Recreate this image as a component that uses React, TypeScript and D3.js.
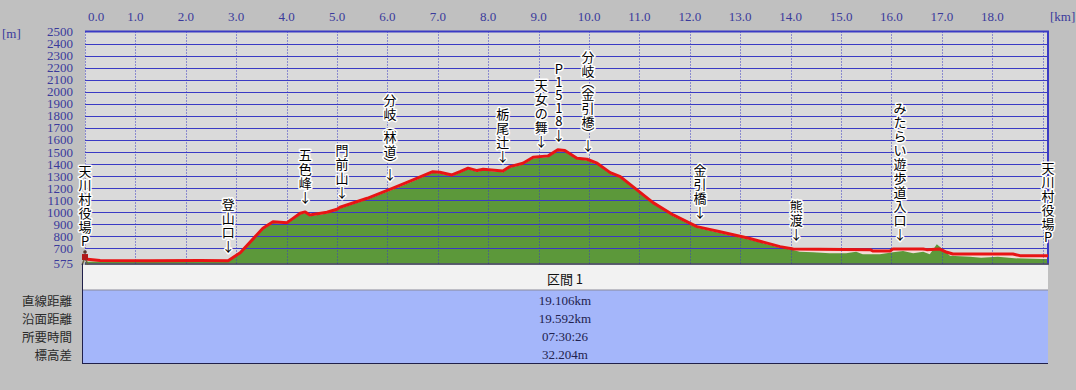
import React from 'react';
import * as d3 from 'd3';

// track (red line)
const trackKm = [0, 0.3, 1.29, 2.28, 2.84, 3.08, 3.53, 3.73, 4.01, 4.27, 4.37, 4.46, 4.8, 5.0, 5.06, 5.6, 6.11, 6.51, 6.9, 7.04, 7.28, 7.44, 7.6, 7.78, 7.9, 8.29, 8.43, 8.69, 8.89, 9.19, 9.38, 9.52, 9.76, 9.96, 10.16, 10.42, 10.62, 10.87, 11.27, 11.67, 12.14, 12.6, 13.17, 13.79, 14.05, 15.58, 15.63, 15.97, 16.03, 16.63, 16.7, 16.96, 17.1, 17.22, 18.41, 18.55, 19.106];
const trackElev = [612, 600, 598, 600, 598, 665, 867, 922, 914, 992, 1003, 978, 1000, 1025, 1042, 1116, 1200, 1268, 1337, 1332, 1310, 1337, 1366, 1346, 1357, 1343, 1379, 1407, 1457, 1468, 1518, 1512, 1449, 1440, 1407, 1329, 1296, 1213, 1080, 978, 881, 839, 784, 715, 695, 690, 679, 679, 695, 695, 690, 695, 668, 654, 654, 640, 640];

// terrain (green area)
const terrainKm = [0, 0.3, 1.29, 2.28, 2.84, 3.08, 3.53, 3.73, 4.01, 4.27, 4.37, 4.46, 4.8, 5.0, 5.06, 5.6, 6.11, 6.51, 6.9, 7.04, 7.28, 7.44, 7.6, 7.78, 7.9, 8.29, 8.43, 8.69, 8.89, 9.19, 9.38, 9.52, 9.76, 9.96, 10.16, 10.42, 10.62, 10.87, 11.27, 11.67, 12.14, 12.6, 13.17, 13.79, 14.05, 14.18, 14.44, 14.77, 15.1, 15.3, 15.43, 15.77, 16.03, 16.23, 16.43, 16.63, 16.76, 16.9, 17.03, 17.16, 17.56, 17.78, 18.11, 18.44, 18.97, 19.106];
const terrainElev = [590, 592, 592, 594, 592, 655, 858, 912, 905, 982, 994, 968, 990, 1015, 1032, 1106, 1190, 1258, 1328, 1322, 1300, 1328, 1356, 1336, 1347, 1333, 1369, 1397, 1447, 1458, 1508, 1502, 1440, 1430, 1397, 1320, 1286, 1203, 1070, 968, 871, 829, 774, 705, 687, 673, 668, 660, 660, 673, 651, 651, 668, 679, 660, 673, 651, 734, 690, 640, 632, 623, 632, 618, 612, 612];

const kmTicks = [0, 1, 2, 3, 4, 5, 6, 7, 8, 9, 10, 11, 12, 13, 14, 15, 16, 17, 18];
const kmGrid = [0, 1, 2, 3, 4, 5, 6, 7, 8, 9, 10, 11, 12, 13, 14, 15, 16, 17, 18, 19];
const elevTicks = [2500, 2400, 2300, 2200, 2100, 2000, 1900, 1800, 1700, 1600, 1500, 1400, 1300, 1200, 1100, 1000, 900, 800, 700, 575];

const waypointNames = ['天川村役場P', '登山口', '五色峰', '門前山', '分岐(林道)', '栃尾辻', '天女の舞', 'P1518', '分岐(金引橋)', '金引橋', '熊渡', 'みたらい遊歩道入口', '天川村役場P'];
const waypointKm = [0, 2.84, 4.37, 5.1, 6.05, 8.29, 9.05, 9.4, 9.98, 12.2, 14.11, 16.17, 19.106];

const sectionName = '区間 1';
const summaryLabels = ['直線距離', '沿面距離', '所要時間', '標高差'];
const summaryValues = ['19.106km', '19.592km', '07:30:26', '32.204m'];

const W = 1076;
const H = 390;
const blue = '#3a3ac4';
const tickColor = '#3a3a9c';
const serif = '"Liberation Serif", "DejaVu Serif", serif';
const gothic = '"Noto Sans CJK JP", "Noto Sans", sans-serif';

const x = d3.scaleLinear().domain([0, 19.106]).range([85, 1048]);
const y = d3.scaleLinear().domain([575, 2500]).range([263.5, 31.5]);
const crisp = (v: number) => Math.round(v) + 0.5;

const elevAt = (km: number) => {
  const i = Math.min(Math.max(d3.bisectLeft(trackKm, km), 1), trackKm.length - 1);
  const t = (km - trackKm[i - 1]) / (trackKm[i] - trackKm[i - 1]);
  return trackElev[i - 1] + t * (trackElev[i] - trackElev[i - 1]);
};

const toVertical = (c: string) => (c === '(' ? '︵' : c === ')' ? '︶' : c);
const adv = (c: string) => (c === '︵' || c === '︶' ? 9 : /[A-Za-z0-9]/.test(c) ? 13 : 14);

// vertical label: characters stacked top to bottom, ending just above the track
const Label = ({ name, km, arrow }: { name: string; km: number; arrow: boolean }) => {
  const chars = Array.from(name).map(toVertical);
  if (arrow) chars.push('↓');
  const bottom = y(elevAt(km)) - (arrow ? 9 : 13);
  const centers: number[] = [];
  let cur = bottom;
  for (let i = chars.length - 1; i >= 0; i--) {
    const a = adv(chars[i]);
    centers[i] = cur - a / 2;
    cur -= a;
  }
  return (
    <text
      textAnchor="middle"
      dominantBaseline="central"
      fontSize={13}
      fontFamily={gothic}
      fill="#000"
      stroke="#fff"
      strokeWidth={3}
      strokeLinejoin="round"
      paintOrder="stroke"
    >
      {chars.map((c, i) => (
        <tspan key={i} x={x(km)} y={centers[i]}>
          {c}
        </tspan>
      ))}
    </text>
  );
};

const App = () => {
  const track = trackKm.map((k, i) => [k, trackElev[i]] as [number, number]);
  const terrain = terrainKm.map((k, i) => [k, terrainElev[i]] as [number, number]);

  const line = d3.line<[number, number]>().x(d => x(d[0])).y(d => y(d[1]));
  const area = d3
    .area<[number, number]>()
    .x(d => x(d[0]))
    .y0(y(575))
    .y1(d => y(d[1]));

  const left = x(0);
  const right = x(19.106);
  const top = y(2500);
  const base = y(575);
  const panelLeft = 82;
  const panelMid = (panelLeft + right) / 2;
  const rowY = [300, 318, 336, 354];

  return (
    <svg width={W} height={H} style={{ position: 'absolute', left: 0, top: 0 }}>
      <rect width={W} height={H} fill="#c0c0c0" />
      <rect x={left} y={top} width={right - left} height={base - top} fill="#dadada" />

      {/* areas */}
      <path d={area(track) || ''} fill="#f2dcd6" />
      <path d={area(terrain) || ''} fill="#5c983a" />

      {/* grid */}
      {elevTicks
        .filter(v => v > 575 && v < 2500)
        .map(v => (
          <line key={v} x1={left} x2={right} y1={crisp(y(v))} y2={crisp(y(v))} stroke={blue} strokeWidth={1} />
        ))}
      {kmGrid.map(k => (
        <line
          key={k}
          x1={crisp(x(k))}
          x2={crisp(x(k))}
          y1={top}
          y2={base}
          stroke={blue}
          strokeWidth={1}
          strokeDasharray="1,2"
        />
      ))}
      <line x1={left} x2={right + 1} y1={top} y2={top} stroke={blue} strokeWidth={2} />
      <line x1={right} x2={right} y1={top} y2={base} stroke={blue} strokeWidth={2} />
      <line x1={left} x2={right + 1} y1={base + 0.5} y2={base + 0.5} stroke="#3c3c5a" strokeWidth={1.5} />

      {/* track */}
      <path d={line(track) || ''} fill="none" stroke="#e81414" strokeWidth={3} strokeLinejoin="round" />

      {/* hiker at the start */}
      <g>
        <circle cx={left} cy={y(612) - 7} r={1.8} fill="#5a3a2a" />
        <rect x={left - 3} y={y(612) - 5} width={6} height={6} fill="#b01818" />
        <line x1={left - 1} x2={left - 3} y1={y(612) + 1} y2={y(612) + 6} stroke="#6a6040" strokeWidth={1.5} />
        <line x1={left + 1} x2={left + 3} y1={y(612) + 1} y2={y(612) + 6} stroke="#6a6040" strokeWidth={1.5} />
      </g>

      {/* waypoint labels */}
      {waypointNames.map((n, i) => (
        <Label key={i} name={n} km={waypointKm[i]} arrow={waypointKm[i] > 0 && waypointKm[i] < 19.1} />
      ))}

      {/* axis labels */}
      {kmTicks.map(k => (
        <text
          key={k}
          x={k === 0 ? x(k) + 3 : x(k)}
          y={16}
          textAnchor={k === 0 ? 'start' : 'middle'}
          dominantBaseline="central"
          fontSize={13}
          fontFamily={serif}
          fill={tickColor}
        >
          {k.toFixed(1)}
        </text>
      ))}
      <text x={1050} y={16} dominantBaseline="central" fontSize={13} fontFamily={serif} fill={tickColor}>
        [km]
      </text>
      <text x={2} y={33} dominantBaseline="central" fontSize={13} fontFamily={serif} fill={tickColor}>
        [m]
      </text>
      {elevTicks.map(v => (
        <text
          key={v}
          x={73}
          y={y(v)}
          textAnchor="end"
          dominantBaseline="central"
          fontSize={13}
          fontFamily={serif}
          fill={tickColor}
        >
          {v}
        </text>
      ))}

      {/* summary panel */}
      <rect x={panelLeft} y={base + 1.5} width={right - panelLeft} height={290 - base - 1.5} fill="#f2f2f2" />
      <rect x={panelLeft} y={290} width={right - panelLeft} height={73} fill="#a4b6fa" />
      <line x1={panelLeft} x2={right} y1={290} y2={290} stroke="#8a8a9a" strokeWidth={1} />
      <line x1={panelLeft + 0.5} x2={panelLeft + 0.5} y1={base} y2={363} stroke="#20204a" strokeWidth={1} />
      <line x1={panelLeft} x2={right} y1={363.5} y2={363.5} stroke="#20204a" strokeWidth={1} />
      <text
        x={panelMid}
        y={278}
        textAnchor="middle"
        dominantBaseline="central"
        fontSize={13}
        fontFamily={gothic}
        fill="#111"
      >
        {sectionName}
      </text>
      {summaryValues.map((v, i) => (
        <text
          key={v}
          x={panelMid}
          y={rowY[i]}
          textAnchor="middle"
          dominantBaseline="central"
          fontSize={13}
          fontFamily={serif}
          fill="#22224e"
        >
          {v}
        </text>
      ))}
      {summaryLabels.map((l, i) => (
        <text
          key={l}
          x={72}
          y={rowY[i]}
          textAnchor="end"
          dominantBaseline="central"
          fontSize={12.5}
          fontFamily={gothic}
          fill="#2a2a2a"
        >
          {l}
        </text>
      ))}
    </svg>
  );
};

export default App;
